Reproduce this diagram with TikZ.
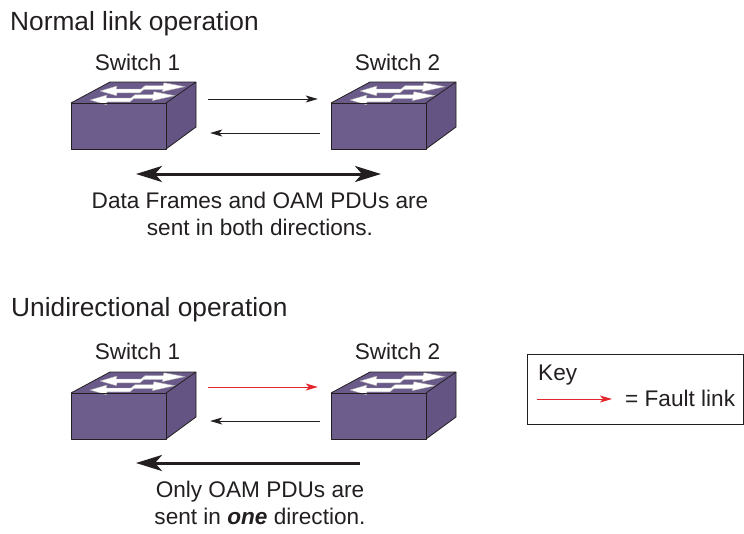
\documentclass[tikz,border=0pt]{standalone}
\usepackage{fontspec}
\setmainfont{Liberation Sans}
\usetikzlibrary{arrows.meta,calc}

\definecolor{ink}{HTML}{231F20}
\definecolor{faultred}{HTML}{E3262D}
\definecolor{swfront}{HTML}{6D5D8C}
\definecolor{swtop}{HTML}{6A5A8A}
\definecolor{swside}{HTML}{645483}

\tikzset{
  swedge/.style={draw=ink, line width=0.8pt, line join=round},
  swarrow/.style={fill=white, draw=gray!65, line width=0.4pt, line join=round},
  link/.style={draw=ink, line width=0.9pt, -{Stealth[length=12pt,width=7pt,inset=3pt]}},
  faultlink/.style={link, draw=faultred},
  flow/.style={draw=ink, line width=3pt, -{Stealth[length=26pt,width=16pt,inset=7pt]}},
  bothflow/.style={draw=ink, line width=3pt,
    {Stealth[length=26pt,width=16pt,inset=7pt]}-{Stealth[length=26pt,width=16pt,inset=7pt]}},
  heading/.style={font=\fontsize{26.3}{31}\selectfont, text=ink, inner sep=0, anchor=base west},
  body/.style={font=\fontsize{22.6}{28}\selectfont, text=ink, inner sep=0},
  keyframe/.style={draw=ink, line width=0.9pt, inner sep=0},
  % switch icon: origin at the top-left corner of the front face
  switchicon/.pic={
    \fill[swfront] (0,0) rectangle (95,46);
    \fill[swtop] (0,0) -- (95,0) -- (125,-21) -- (39,-21) -- cycle;
    \fill[swside] (95,0) -- (125,-21) -- (125,24) -- (95,46) -- cycle;
    \foreach \dx/\dy in {0/0,-10/9}{
      \draw[swarrow, shift={(\dx,\dy)}]
        (29,-12) -- (46,-17) -- (45.3,-14) -- (70,-14) -- (74,-17.3)
        -- (92,-17.3) -- (93,-20.3) -- (114,-16.3) -- (91,-11.3) -- (92,-13.5)
        -- (73,-13.5) -- (69,-10.2) -- (46,-10.2) -- (45.5,-7.3) -- cycle;
    }
    \draw[swedge] (0,0) rectangle (95,46);
    \draw[swedge] (0,0) -- (39,-21) -- (125,-21) -- (95,0);
    \draw[swedge] (125,-21) -- (125,24) -- (95,46);
    \node[inner sep=0, minimum width=125pt, minimum height=67pt] (-box) at (62.5,12.5) {};
  }
}

\begin{document}
\begin{tikzpicture}[x=1pt, y=-1pt]
  \useasboundingbox (0,0) rectangle (744,533);

  % ---------- normal link operation ----------
  \node[heading] (normalhead) at (10,30) {Normal link operation};

  \pic (s1) at (71,103) {switchicon};
  \pic (s2) at (331,103) {switchicon};
  \node[body, anchor=base] (s1lab) at (137.5,70) {Switch 1};
  \node[body, anchor=base] (s2lab) at (397.5,70) {Switch 2};

  \draw[link] ($(s1-box.east)+(12,-16.5)$) -- ($(s2-box.west)+(-13,-16.5)$);
  \draw[link] ($(s2-box.west)+(-11,17.5)$) -- ($(s1-box.east)+(14,17.5)$);

  \coordinate (bothL) at (136,174);
  \coordinate (bothR) at (381,174);
  \draw[bothflow] (bothL) -- (bothR);

  \node[body, anchor=base] (normalnote1) at (260,208) {Data Frames and OAM PDUs are};
  \node[body, anchor=base] (normalnote2) at (260,235) {sent in both directions.};

  % ---------- unidirectional operation ----------
  \node[heading] (unihead) at (11,316) {Unidirectional operation};

  \pic (s3) at (71,393) {switchicon};
  \pic (s4) at (331,393) {switchicon};
  \node[body, anchor=base] (s3lab) at (137.5,359) {Switch 1};
  \node[body, anchor=base] (s4lab) at (397.5,359) {Switch 2};

  \draw[faultlink] ($(s3-box.east)+(12,-18.5)$) -- ($(s4-box.west)+(-13,-18.5)$);
  \draw[link] ($(s4-box.west)+(-11,15.5)$) -- ($(s3-box.east)+(14,15.5)$);

  \coordinate (oneR) at (360,463);
  \coordinate (oneL) at (136,463);
  \draw[flow] (oneR) -- (oneL);

  \node[body, anchor=base] (uninote1) at (260,497) {Only OAM PDUs are};
  \node[body, anchor=base] (uninote2) at (260,524) {sent in \textbf{\textit{one}} direction.};

  % ---------- key ----------
  \node[keyframe, minimum width=216pt, minimum height=70pt] (key) at (635.25,389) {};
  \node[body, anchor=base west] (keytitle) at (538,380) {Key};
  \coordinate (keyA) at (537,399);
  \coordinate (keyB) at (612,399);
  \draw[faultlink] (keyA) -- (keyB);
  \node[body, anchor=base west] (keytext) at (625,406) {= Fault link};
\end{tikzpicture}
\end{document}
